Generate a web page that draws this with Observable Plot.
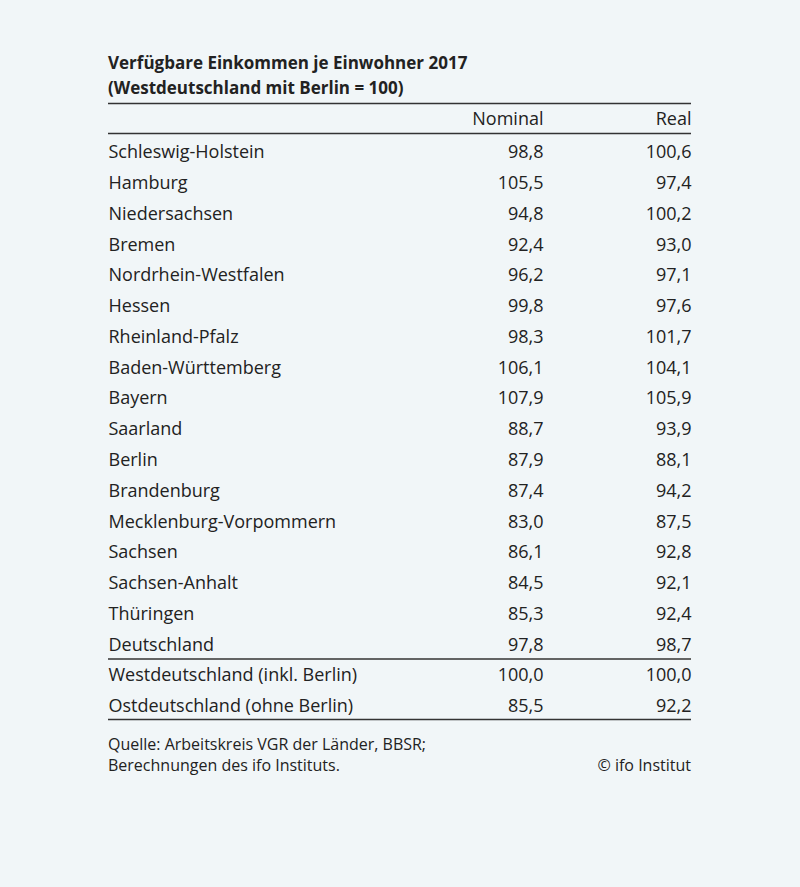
<!DOCTYPE html>
<html>
<head>
<meta charset="utf-8">
<script src="https://cdn.jsdelivr.net/npm/d3@7"></script>
<script src="https://cdn.jsdelivr.net/npm/@observablehq/plot@0.6"></script>
<style>
  html, body { margin: 0; padding: 0; background: #f1f6f8; width: 800px; height: 887px; overflow: hidden; }
  body { font-family: "Open Sans", "Noto Sans", sans-serif; color: #222; position: relative; }
  #title { position: absolute; top: 50px; left: 108px; font-weight: 700; font-size: 17px; line-height: 25px; white-space: nowrap; }
  #chart { position: absolute; top: 100px; left: 0; }
  #chart svg { display: block; background: transparent; }
  #caption { position: absolute; top: 734px; left: 108px; width: 583px; font-size: 16px; line-height: 21px; }
  #caption .right { position: absolute; right: 0; bottom: 0; }
</style>
</head>
<body>
<div id="title">Verfügbare Einkommen je Einwohner 2017<br>(Westdeutschland mit Berlin = 100)</div>
<div id="chart"></div>
<div id="caption">Quelle: Arbeitskreis VGR der Länder, BBSR;<br>Berechnungen des ifo Instituts.<span class="right">© ifo Institut</span></div>
<script>
const regions = ["Schleswig-Holstein","Hamburg","Niedersachsen","Bremen","Nordrhein-Westfalen","Hessen","Rheinland-Pfalz","Baden-Württemberg","Bayern","Saarland","Berlin","Brandenburg","Mecklenburg-Vorpommern","Sachsen","Sachsen-Anhalt","Thüringen","Deutschland","Westdeutschland (inkl. Berlin)","Ostdeutschland (ohne Berlin)"];
const nominal = [98.8,105.5,94.8,92.4,96.2,99.8,98.3,106.1,107.9,88.7,87.9,87.4,83.0,86.1,84.5,85.3,97.8,100.0,85.5];
const real = [100.6,97.4,100.2,93.0,97.1,97.6,101.7,104.1,105.9,93.9,88.1,94.2,87.5,92.8,92.1,92.4,98.7,100.0,92.2];
const columns = ["label","Nominal","Real"];
const headers = ["Nominal","Real"];

const fmt = v => v.toFixed(1).replace(".", ",");
const colIndex = c => columns.indexOf(c);
const rows = regions.map((r, i) => ({region: r, Nominal: nominal[i], Real: real[i]}));
const cells = rows.flatMap(d => headers.map(c => ({region: d.region, col: colIndex(c), text: fmt(d[c])})));

// rule positions: relative to a reference row, offset in px
const rules = [
  {row: regions[0], dy: -49},
  {row: regions[0], dy: -19},
  {row: "Deutschland", dy: 14},
  {row: regions[regions.length - 1], dy: 13}
];

const font = "Open Sans";
const chart = Plot.plot({
  width: 800,
  height: 630,
  margin: 0,
  style: {background: "transparent"},
  x: {type: "linear", domain: [0, 1, 2], range: [108, 543, 691], axis: null},
  y: {type: "point", domain: regions, range: [52, 606], padding: 0, round: false, axis: null},
  marks: [
    ...rules.map(r => Plot.ruleY([r], {y: "row", dy: r.dy, x1: () => 0, x2: () => 2, stroke: "#333", strokeWidth: 1.4})),
    Plot.text(headers, {x: d => colIndex(d), y: () => regions[0], dy: -33, text: d => d, textAnchor: "end", fontFamily: font, fontSize: 18, fill: "#222"}),
    Plot.text(rows, {x: () => 0, y: "region", text: "region", textAnchor: "start", fontFamily: font, fontSize: 18, fill: "#222"}),
    Plot.text(cells, {x: "col", y: "region", text: "text", textAnchor: "end", fontFamily: font, fontSize: 18, fill: "#222"})
  ]
});
document.getElementById("chart").appendChild(chart);
</script>
</body>
</html>
